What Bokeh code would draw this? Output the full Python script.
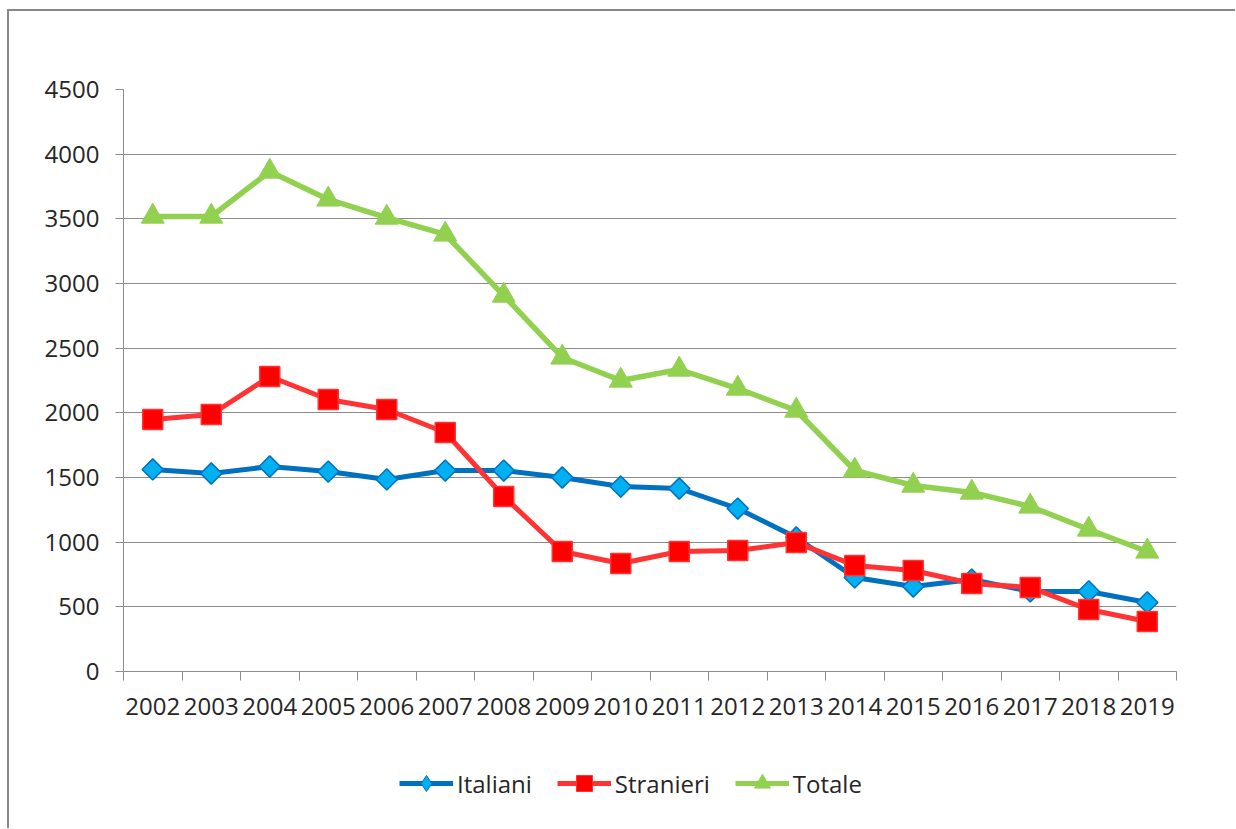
from bokeh.plotting import figure
from bokeh.layouts import column
from bokeh.models import Range1d, FixedTicker, Legend, LegendItem, ColumnDataSource
from bokeh.embed import file_html
from bokeh.resources import INLINE
import numpy as np

years = ["2002", "2003", "2004", "2005", "2006", "2007", "2008", "2009", "2010",
         "2011", "2012", "2013", "2014", "2015", "2016", "2017", "2018", "2019"]
italiani = [1562, 1531, 1585, 1546, 1485, 1554, 1554, 1500, 1430,
            1415, 1260, 1036, 727, 657, 711, 619, 619, 534]
stranieri = [1949, 1987, 2281, 2103, 2026, 1848, 1353, 928, 835,
             928, 936, 997, 820, 781, 680, 650, 479, 387]
totale = [3518, 3518, 3866, 3650, 3510, 3379, 2907, 2428, 2250,
          2335, 2188, 2018, 1554, 1438, 1384, 1276, 1098, 928]
y_ticks = [0, 500, 1000, 1500, 2000, 2500, 3000, 3500, 4000, 4500]
series_names = ["Italiani", "Stranieri", "Totale"]

FONT = "Open Sans"
TXT = "#262626"
GRAY = "#8c8c8c"
FS = "24px"

BLUE_L, BLUE_F = "#0070C0", "#00B0F0"
RED_L, RED_F = "#FF3333", "#FF0000"
GREEN = "#92D050"

n = len(years)
xs = [i + 0.5 for i in range(n)]

p = figure(width=1226, height=729, output_backend="svg", toolbar_location=None,
           x_range=Range1d(0, n), y_range=Range1d(0, 4500),
           min_border_left=114, min_border_right=59, min_border_top=78, min_border_bottom=69)
p.outline_line_color = None
p.background_fill_color = "white"
p.border_fill_color = "white"

xa = p.xaxis[0]
xa.ticker = FixedTicker(ticks=xs, minor_ticks=list(range(n + 1)))
xa.major_label_overrides = {x: y for x, y in zip(xs, years)}
xa.major_tick_out = 0
xa.major_tick_in = 0
xa.minor_tick_out = 9
xa.minor_tick_in = 0
xa.minor_tick_line_color = GRAY
xa.axis_line_color = GRAY
xa.major_label_standoff = 17
xa.major_label_text_font = FONT
xa.major_label_text_font_size = FS
xa.major_label_text_color = TXT

ya = p.yaxis[0]
ya.ticker = FixedTicker(ticks=y_ticks)
ya.major_tick_out = 8
ya.major_tick_in = 0
ya.minor_tick_line_color = None
ya.major_tick_line_color = GRAY
ya.axis_line_color = GRAY
ya.major_label_standoff = 16
ya.major_label_text_font = FONT
ya.major_label_text_font_size = FS
ya.major_label_text_color = TXT

p.xgrid.grid_line_color = None
p.ygrid.grid_line_color = GRAY
p.ygrid.grid_line_width = 1

src = ColumnDataSource(dict(x=xs, it=italiani, st=stranieri, to=totale))

p.line("x", "it", source=src, line_color=BLUE_L, line_width=5)
p.line("x", "st", source=src, line_color=RED_L, line_width=5)
p.line("x", "to", source=src, line_color=GREEN, line_width=5.5)

p.scatter("x", "it", source=src, marker="square", angle=np.pi / 4, size=15,
          fill_color=BLUE_F, line_color=BLUE_L, line_width=1.5)
p.scatter("x", "st", source=src, marker="square", size=20,
          fill_color=RED_F, line_color=RED_L, line_width=1.5)
p.scatter("x", "to", source=src, marker="triangle", size=23,
          fill_color=GREEN, line_color=GREEN, line_width=1)

# legend strip (second figure; its renderers sit outside the visible range)
q = figure(width=1226, height=88, output_backend="svg", toolbar_location=None,
           x_range=Range1d(0, 1), y_range=Range1d(0, 1),
           min_border_left=0, min_border_right=0, min_border_top=0, min_border_bottom=0)
q.axis.visible = False
q.grid.visible = False
q.outline_line_color = None
q.border_fill_color = "white"

styles_ = [("diamond", BLUE_L, BLUE_F), ("square", RED_L, RED_F), ("triangle", GREEN, GREEN)]
items = []
for name, (mk, lc, fc) in zip(series_names, styles_):
    lr = q.line(x=[-5, -4], y=[-5, -4], line_color=lc, line_width=5)
    mr = q.scatter(x=[-5], y=[-5], marker=mk, fill_color=fc, line_color=lc, line_width=1)
    items.append(LegendItem(label=name, renderers=[lr, mr]))

legend = Legend(items=items, orientation="horizontal", location=(276, 25),
                glyph_width=54, glyph_height=40, label_standoff=4, spacing=25,
                padding=0, margin=0, border_line_color=None,
                background_fill_alpha=0,
                label_text_font=FONT, label_text_font_size=FS, label_text_color=TXT)
q.add_layout(legend, "center")

layout = column(p, q, spacing=0)
layout.styles = {"border-left": "2px solid #888888", "border-top": "2px solid #888888",
                 "margin-left": "7px", "margin-top": "9px"}

open("out.html", "w").write(file_html(layout, INLINE))
